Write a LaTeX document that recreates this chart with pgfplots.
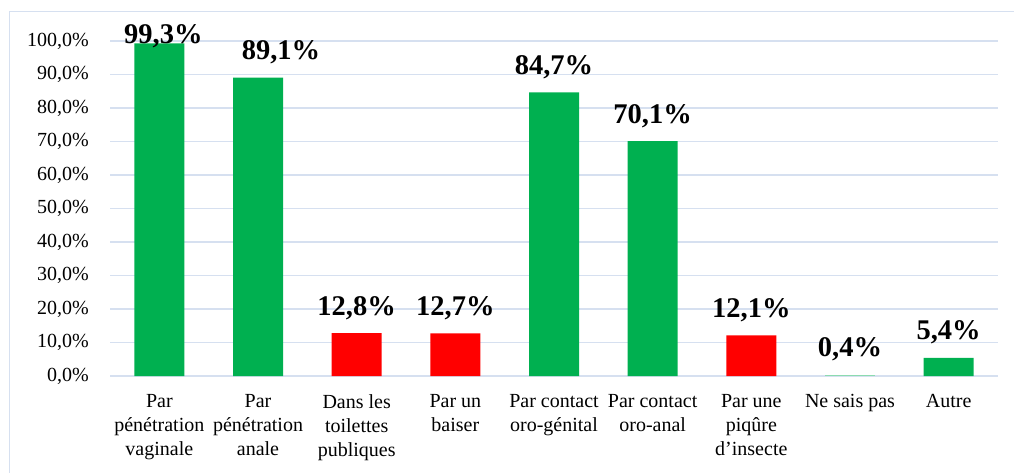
\documentclass[border=0pt]{standalone}
\usepackage{pgfplots}
\pgfplotsset{compat=1.18}
\usepackage{fontspec}
\setmainfont{Liberation Serif}
\definecolor{gridc}{HTML}{D6E0F0}
\definecolor{frame}{HTML}{D6E0F0}
\definecolor{grn}{HTML}{00B050}
\definecolor{rd}{HTML}{FF0000}
\begin{document}
\begin{tikzpicture}
\begin{axis}[
  at={(110pt,96pt)}, anchor=south west,
  scale only axis, width=888pt, height=335pt,
  xmin=-0.5, xmax=8.5, ymin=0, ymax=100,
  clip=false,
  axis line style={draw=none},
  major tick length=0pt,
  ytick={0,10,...,100},
  yticklabels={{0,0\%},{10,0\%},{20,0\%},{30,0\%},{40,0\%},{50,0\%},{60,0\%},{70,0\%},{80,0\%},{90,0\%},{100,0\%}},
  yticklabel style={font=\fontsize{20}{24}\selectfont, anchor=east, inner sep=0pt, xshift=-21pt},
  ymajorgrids, grid style={gridc, line width=1.5pt},
  xtick={0,...,8},
  xticklabels={{Par\\pénétration\\vaginale},{Par\\pénétration\\anale},{Dans les\\toilettes\\publiques},{Par un\\baiser},{Par contact\\oro-génital},{Par contact\\oro-anal},{Par une\\piqûre\\d’insecte},{Ne sais pas},{Autre}},
  xticklabel style={font=\fontsize{20}{24}\selectfont, align=center, anchor=north, inner sep=0pt, yshift=-18pt},
  ybar, bar width=50pt, bar shift=0pt,
  /pgf/number format/assume math mode=true,
  visualization depends on={value \thisrow{s} \as \myshift},
  visualization depends on={value \thisrow{xs} \as \myxshift},
  nodes near coords={\pgfmathprintnumber[fixed,fixed zerofill,precision=1,use comma]{\pgfplotspointmeta}\%},
  every node near coord/.append style={font=\fontsize{28.5}{30}\selectfont\bfseries, anchor=base, inner sep=0pt, yshift=\myshift, xshift=\myxshift},
]
\addplot[fill=grn, draw=none] table[x=x,y=y] {
x y s xs
0 99.3 0pt 4pt
1 89.1 18pt 23pt
4 84.7 18pt 0pt
5 70.1 18pt 0pt
8 5.4 18pt 0pt
};
\addplot[fill=grn!45, draw=none] table[x=x,y=y] {
x y s xs
7 0.4 18pt 0pt
};
\addplot[fill=rd, draw=none] table[x=x,y=y] {
x y s xs
2 12.8 18pt 0pt
3 12.7 18pt 0pt
6 12.1 18pt 0pt
};
\end{axis}
\draw[frame, line width=1pt] (9pt,-20pt) -- (9pt,460pt) -- (1030pt,460pt);
\pgfresetboundingbox
\useasboundingbox (0,0) rectangle (1014pt,472pt);
\end{tikzpicture}
\end{document}
